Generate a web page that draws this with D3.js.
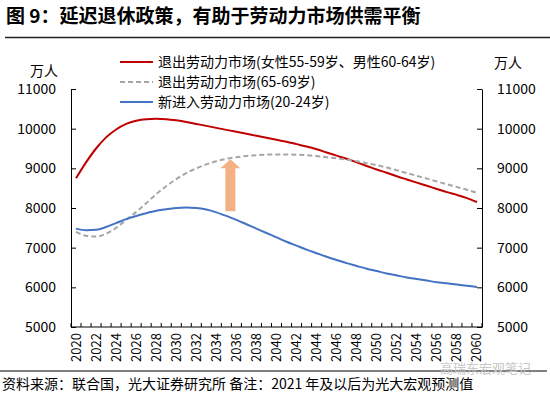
<!DOCTYPE html>
<html>
<head>
<meta charset="utf-8">
<script src="https://cdn.jsdelivr.net/npm/d3@7"></script>
<style>
  body { margin: 0; background: #fff; }
  text { font-family: "Noto Sans CJK SC", "Noto Sans", sans-serif; fill: #000; }
</style>
</head>
<body>
<script>
var years = d3.range(2020, 2061);

// 退出劳动力市场(女性55-59岁、男性60-64岁)
var exitCurrent = [8750, 9150, 9500, 9780, 9980, 10120, 10200, 10240, 10250, 10240,
                   10210, 10170, 10120, 10070, 10020, 9970, 9920, 9870, 9820, 9770,
                   9720, 9670, 9610, 9550, 9480, 9400, 9320, 9240, 9150, 9060,
                   8970, 8890, 8800, 8720, 8640, 8560, 8480, 8400, 8330, 8250, 8150];
// 退出劳动力市场(65-69岁)
var exitDelayed = [7400, 7300, 7280, 7350, 7500, 7700, 7900, 8120, 8350, 8550,
                   8730, 8880, 9000, 9100, 9180, 9240, 9280, 9310, 9330, 9345,
                   9350, 9350, 9345, 9330, 9310, 9280, 9250, 9220, 9180, 9130,
                   9080, 9020, 8950, 8880, 8810, 8740, 8670, 8600, 8530, 8460, 8380];
// 新进入劳动力市场(20-24岁)
var entering = [7480, 7440, 7450, 7520, 7620, 7720, 7800, 7870, 7930, 7970,
                8000, 8010, 8000, 7960, 7890, 7800, 7700, 7590, 7480, 7370,
                7260, 7150, 7050, 6950, 6860, 6770, 6690, 6610, 6540, 6470,
                6410, 6350, 6300, 6250, 6210, 6170, 6130, 6100, 6070, 6040, 6010];

var seriesNames = ["退出劳动力市场(女性55-59岁、男性60-64岁)", "退出劳动力市场(65-69岁)", "新进入劳动力市场(20-24岁)"];
var seriesColors = ["#C00000", "#A6A6A6", "#4472C4"];
var yTicks = [5000, 6000, 7000, 8000, 9000, 10000, 11000];
var xLabelYears = d3.range(2020, 2061, 2);
var arrowYear = 2035.4, arrowFrom = 7920, arrowTo = 9230;

var width = 550, height = 394,
    plotLeft = 71, plotRight = 482, plotTop = 89, plotBottom = 327;

var svg = d3.select("body").append("svg")
            .attr("width", width)
            .attr("height", height);

var x = d3.scaleLinear().domain([2019.5, 2060.5]).range([plotLeft, plotRight]);
var y = d3.scaleLinear().domain([5000, 11000]).range([plotBottom, plotTop]);

// title
svg.append("text")
   .attr("x", 6).attr("y", 23)
   .style("font-size", "19px").style("font-weight", "bold")
   .text("图 9：延迟退休政策，有助于劳动力市场供需平衡");
svg.append("line")
   .attr("x1", 5).attr("x2", 550).attr("y1", 37.5).attr("y2", 37.5)
   .style("stroke", "#222").style("stroke-width", 1.3);

// axes
var axisLeft = d3.axisLeft(y).tickValues(yTicks).tickFormat(d3.format("d"))
                 .tickSizeInner(-5).tickSizeOuter(0).tickPadding(15);
var axisRight = d3.axisRight(y).tickValues(yTicks).tickFormat(d3.format("d"))
                  .tickSizeInner(-5).tickSizeOuter(0).tickPadding(15);

var gl = svg.append("g").attr("transform", "translate(" + plotLeft + ",0)").call(axisLeft);
var gr = svg.append("g").attr("transform", "translate(" + plotRight + ",0)").call(axisRight);
[gl, gr].forEach(function(g) {
    g.selectAll("text").style("font-size", "14px").style("font-family", null);
    g.selectAll("line, path").style("stroke", "#000");
});

// bottom axis: a tick at every year boundary, labels every two years
svg.append("line")
   .attr("x1", plotLeft).attr("x2", plotRight).attr("y1", plotBottom).attr("y2", plotBottom)
   .style("stroke", "#000");
svg.selectAll(".xtick")
   .data(d3.range(2019.5, 2061, 1))
   .enter().append("line")
   .attr("class", "xtick")
   .attr("x1", function(d) {return x(d); })
   .attr("x2", function(d) {return x(d); })
   .attr("y1", plotBottom).attr("y2", plotBottom - 4)
   .style("stroke", "#000");
svg.selectAll(".xlabel")
   .data(xLabelYears)
   .enter().append("text")
   .attr("class", "xlabel")
   .attr("transform", function(d) {return "translate(" + (x(d) + 4.5) + "," + (plotBottom + 6) + ") rotate(-90)"; })
   .attr("text-anchor", "end")
   .style("font-size", "13px")
   .text(function(d) {return d; });

// units
svg.append("text").attr("x", 30).attr("y", 76).style("font-size", "14px").text("万人");
svg.append("text").attr("x", 494).attr("y", 68).style("font-size", "14px").text("万人");

// lines
var line = d3.line()
             .x(function(d, i) {return x(years[i]); })
             .y(function(d) {return y(d); })
             .curve(d3.curveMonotoneX);

var allSeries = [exitCurrent, exitDelayed, entering];
svg.selectAll(".series")
   .data(allSeries)
   .enter().append("path")
   .attr("class", "series")
   .attr("d", line)
   .style("fill", "none")
   .style("stroke", function(d, i) {return seriesColors[i]; })
   .style("stroke-width", 2)
   .style("stroke-dasharray", function(d, i) {return i === 1 ? "5,3" : null; });

// arrow
var ax = x(arrowYear), ay0 = y(arrowFrom), ay1 = y(arrowTo);
svg.append("path")
   .attr("d", "M" + (ax - 5) + "," + ay0 + "V" + (ay1 + 9) + "H" + (ax - 10) +
              "L" + ax + "," + ay1 + "L" + (ax + 10) + "," + (ay1 + 9) +
              "H" + (ax + 5) + "V" + ay0 + "Z")
   .style("fill", "#F4B183");

// legend
var legend = svg.selectAll(".legendRow")
                .data(seriesNames)
                .enter().append("g")
                .attr("class", "legendRow")
                .attr("transform", function(d, i) {return "translate(120," + (62 + i * 20) + ")"; });
legend.append("line")
      .attr("x1", 0).attr("x2", 33)
      .style("stroke", function(d, i) {return seriesColors[i]; })
      .style("stroke-width", 2)
      .style("stroke-dasharray", function(d, i) {return i === 1 ? "5,3" : null; });
legend.append("text")
      .attr("x", 38).attr("dy", "0.35em")
      .style("font-size", "14px")
      .text(function(d) {return d; });

// footer
svg.append("line")
   .attr("x1", 0).attr("x2", 547).attr("y1", 371).attr("y2", 371)
   .style("stroke", "#000").style("stroke-width", 1);
svg.append("text")
   .attr("x", 2).attr("y", 389)
   .style("font-size", "14px")
   .text("资料来源：联合国，光大证券研究所  备注：2021 年及以后为光大宏观预测值");
svg.append("text")
   .attr("x", 440).attr("y", 373)
   .style("font-size", "13px").style("fill", "#c8c8c8")
   .text("高瑞东宏观笔记");
</script>
</body>
</html>
